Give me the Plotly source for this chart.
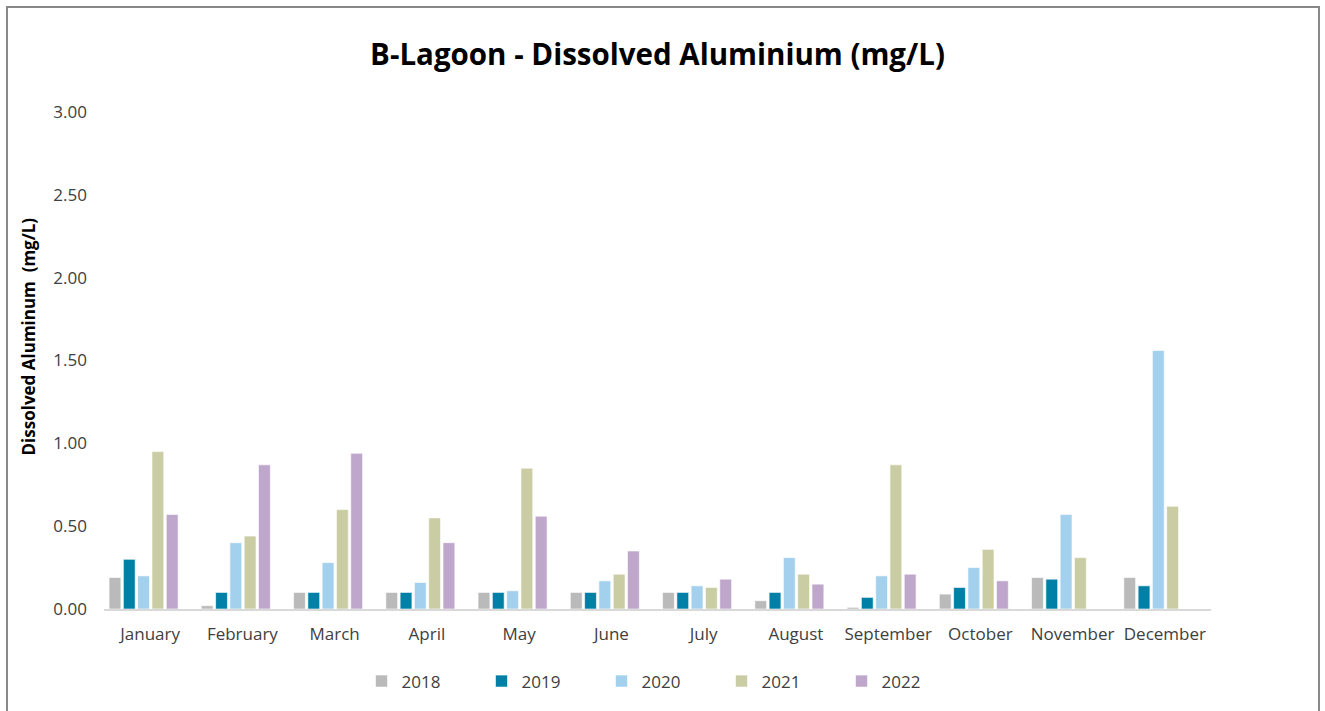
import plotly.graph_objects as go

months = ["January", "February", "March", "April", "May", "June", "July",
          "August", "September", "October", "November", "December"]
v2018 = [0.19, 0.02, 0.10, 0.10, 0.10, 0.10, 0.10, 0.05, 0.01, 0.09, 0.19, 0.19]
v2019 = [0.30, 0.10, 0.10, 0.10, 0.10, 0.10, 0.10, 0.10, 0.07, 0.13, 0.18, 0.14]
v2020 = [0.20, 0.40, 0.28, 0.16, 0.11, 0.17, 0.14, 0.31, 0.20, 0.25, 0.57, 1.56]
v2021 = [0.95, 0.44, 0.60, 0.55, 0.85, 0.21, 0.13, 0.21, 0.87, 0.36, 0.31, 0.62]
v2022 = [0.57, 0.87, 0.94, 0.40, 0.56, 0.35, 0.18, 0.15, 0.21, 0.17, None, None]

series = [("2018", v2018, "#BABABA"), ("2019", v2019, "#0080A6"),
          ("2020", v2020, "#A3D0EC"), ("2021", v2021, "#CACDA3"),
          ("2022", v2022, "#BFA6CB")]

FONT = "'Open Sans', sans-serif"

# bar layout inside each category (fractions of the category band)
BAR_W = 0.128
BAR_STEP = 0.155
BAR_START = -0.445

fig = go.Figure()
for i, (name, vals, col) in enumerate(series):
    fig.add_trace(go.Bar(x=months, y=vals, name=name,
                         width=BAR_W, offset=BAR_START + i * BAR_STEP,
                         marker=dict(color=col, line=dict(color="rgba(255,255,255,0.6)", width=1))))

L, R, T, B = 104, 114, 112, 92
W, H = 1325, 711
pw, ph = W - L - R, H - T - B

def px_x(p):
    return (p - L) / pw

def px_y(p):
    return (H - B - p) / ph

fig.update_layout(
    width=W, height=H,
    margin=dict(l=L, r=R, t=T, b=B),
    paper_bgcolor="white", plot_bgcolor="white",
    barmode="overlay",
    font=dict(family=FONT, color="#404040"),
    title=dict(text="<b>B-Lagoon - Dissolved Aluminium (mg/L)</b>",
               x=0.5, xref="paper", xanchor="center",
               y=1 - 55 / H, yanchor="middle",
               font=dict(size=29.5, color="#000000", family=FONT)),
    showlegend=True,
    legend=dict(orientation="h", x=0.5 + 4 / pw, xanchor="center",
                y=px_y(693), yanchor="middle",
                font=dict(size=17, color="#404040"),
                entrywidth=75, traceorder="normal"),
    xaxis=dict(showline=True, linecolor="#D9D9D9", linewidth=2,
               showgrid=False, ticks="", tickfont=dict(size=17, color="#404040"),
               ticklabelstandoff=9, range=[-0.5, 11.5]),
    yaxis=dict(range=[0, 3], tickvals=[0, 0.5, 1, 1.5, 2, 2.5, 3],
               tickformat=".2f", showgrid=False, zeroline=False,
               showline=False, ticks="",
               tickfont=dict(size=17, color="#404040"),
               ticklabelstandoff=16),
    annotations=[dict(text="<b>Dissolved Aluminum  (mg/L)</b>", textangle=-90,
                      xref="paper", yref="paper", x=px_x(28), y=px_y(341),
                      xanchor="center", yanchor="middle", showarrow=False,
                      font=dict(size=17, color="#000000", family=FONT))],
    shapes=[dict(type="rect", xref="paper", yref="paper",
                 x0=px_x(7), x1=px_x(1319), y0=px_y(740), y1=px_y(5),
                 line=dict(color="#888888", width=2), fillcolor="rgba(0,0,0,0)",
                 layer="below")],
)

fig.write_html("out.html", config={"displayModeBar": False},
               post_script="document.body.style.margin='0px';document.body.style.padding='0px';")
